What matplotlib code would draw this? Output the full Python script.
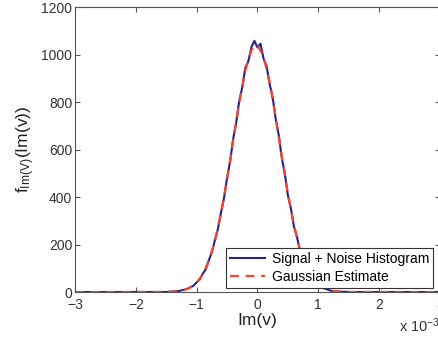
import matplotlib.pyplot as plt

plt.rcParams['font.family'] = ['Liberation Sans', 'DejaVu Sans']
plt.rcParams['mathtext.fontset'] = 'custom'
plt.rcParams['mathtext.rm'] = 'Liberation Sans'
plt.rcParams['mathtext.it'] = 'Liberation Sans'

# Im(v) in units of 1e-3
hist_x = [-3.0] + [round(-1.5 + 0.05 * i, 2) for i in range(61)] + [3.0]
hist_y = [0,
          0, 1, 2, 3, 4, 7, 10, 14, 21, 27,
          41, 53, 77, 96, 134, 167, 219, 266, 335, 396,
          481, 549, 645, 712, 806, 862, 945, 972, 1031, 1058,
          1030, 1046, 983, 951, 876, 820, 728, 661, 565, 498,
          408, 352, 276, 231, 174, 141, 102, 81, 56, 44,
          29, 22, 14, 11, 6, 4, 3, 2, 1, 1,
          0,
          0]

gauss_x = [-3.0] + [round(-1.5 + 0.1 * i, 1) for i in range(31)] + [3.0]
gauss_y = [0,
           0.6, 1.6, 3.9, 9, 19.5, 39.5, 74, 131, 215, 331,
           475, 637, 798, 933, 1019, 1041, 992, 884, 735, 571,
           414, 281, 178, 105, 58, 30, 14.5, 6.5, 2.7, 1.1,
           0.4,
           0]

fig = plt.figure(figsize=(4.39, 3.38), dpi=100)
ax = fig.add_axes([0.171, 0.136, 0.831, 0.843])

ax.plot(hist_x, hist_y, color='#23238f', lw=1.5, label='Signal + Noise Histogram')
ax.plot(gauss_x, gauss_y, color='#f5452a', lw=1.6, ls=(0, (4, 3)), label='Gaussian Estimate')

ax.set_xlim(-3, 3)
ax.set_ylim(0, 1200)
ax.set_xticks(range(-3, 4))
ax.set_xticklabels(['\u22123', '\u22122', '\u22121', '0', '1', '2', '3'])
ax.set_yticks(range(0, 1201, 200))
ax.tick_params(direction='in', length=3.5, top=True, right=True,
               labelsize=10, labelcolor='#333333', color='#555555')
ax.tick_params(axis='x', pad=4)
ax.tick_params(axis='y', pad=2)
for s in ax.spines.values():
    s.set_color('#555555')
    s.set_linewidth(0.8)

ax.set_xlabel('Im(v)', fontsize=12.5, color='#222222', labelpad=1)
ax.set_ylabel(r'f$_{\mathrm{Im(V)}}$(Im(v))', fontsize=12.5, color='#222222', labelpad=3)
fig.text(0.908, 0.035, r'x 10$^{-3}$', fontsize=10.5, color='#333333', va='center')

leg = ax.legend(loc='lower right', bbox_to_anchor=(0.982, 0.015), fontsize=10,
                frameon=True, fancybox=False, framealpha=1, edgecolor='#333333',
                handlelength=2.5, borderpad=0.3, labelspacing=0.25, handletextpad=0.5,
                borderaxespad=0)
leg.get_frame().set_linewidth(0.8)

fig.savefig('out.png', dpi=100)
